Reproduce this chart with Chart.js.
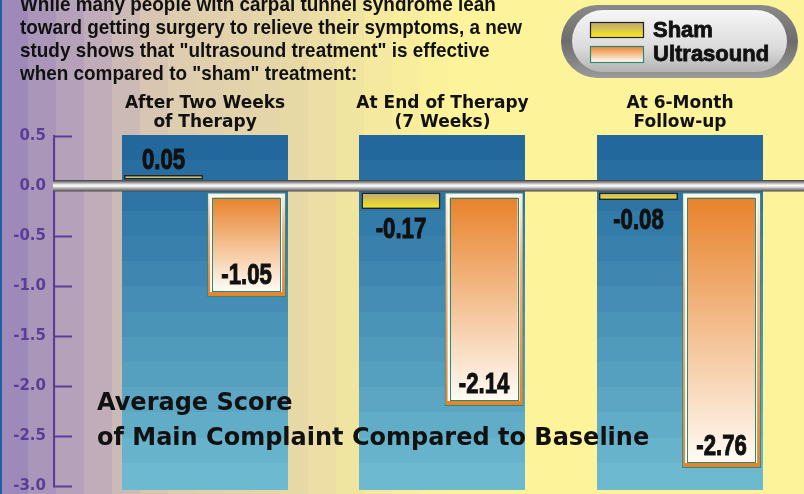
<!DOCTYPE html>
<html>
<head>
<meta charset="utf-8">
<script src="https://cdn.jsdelivr.net/npm/chart.js@4.4.1/dist/chart.umd.min.js"></script>
<style>
  html, body { margin: 0; padding: 0; background: #fdf39a; }
  canvas { display: block; }
</style>
</head>
<body>
<canvas id="carpalChart" width="804" height="494"></canvas>
<script>
// data
const periods = [['After Two Weeks', 'of Therapy'], ['At End of Therapy', '(7 Weeks)'], ['At 6-Month', 'Follow-up']];
const shamScores = [0.05, -0.17, -0.08];
const ultrasoundScores = [-1.05, -2.14, -2.76];
const seriesNames = ['Sham', 'Ultrasound'];
const introLines = [
  'While many people with carpal tunnel syndrome lean',
  'toward getting surgery to relieve their symptoms, a new',
  'study shows that "ultrasound treatment" is effective',
  'when compared to "sham" treatment:'
];
const titleLines = ['Average Score', 'of Main Complaint Compared to Baseline'];

// colours
const SHAM_TOP = '#b8a679', SHAM_BOTTOM = '#f9e81c';
const US_ORANGE = '#e8822a', US_WHITE = '#fffaf3', TEAL = '#2a8a78';
const PURPLE = '#5b3d99';
const ROD = 6; // half height of the grey rod at zero

function hexToRgb(h) {
  const n = parseInt(h.slice(1), 16);
  return [(n >> 16) & 255, (n >> 8) & 255, n & 255];
}
function mix(a, b, t) {
  const A = hexToRgb(a), B = hexToRgb(b);
  return 'rgb(' + A.map((v, i) => Math.round(v + (B[i] - v) * t)).join(',') + ')';
}
const bgStops = [[0, '#9884b8'], [100, '#c2aeba'], [165, '#dccbb0'], [300, '#e8daa6'], [360, '#f2e6a0'], [450, '#fdf39a'], [804, '#fdf39a']];
function bgAt(x) {
  for (let i = 1; i < bgStops.length; i++) {
    if (x <= bgStops[i][0]) {
      const [x0, c0] = bgStops[i - 1], [x1, c1] = bgStops[i];
      return mix(c0, c1, (x - x0) / (x1 - x0));
    }
  }
  return '#fdf39a';
}

function shift(v) { return v >= 0 ? -ROD : ROD; }

function shamFill(c) {
  const chart = c.chart;
  if (!chart.chartArea || !c.parsed) return '#e0cc50';
  const y = chart.scales.y, v = c.parsed.y;
  const a = y.getPixelForValue(0) + shift(v), b = y.getPixelForValue(v) + shift(v);
  const g = chart.ctx.createLinearGradient(0, Math.min(a, b), 0, Math.max(a, b) + 0.01);
  g.addColorStop(0, v >= 0 ? '#c9b364' : SHAM_TOP);
  g.addColorStop(1, v >= 0 ? '#e2cf52' : SHAM_BOTTOM);
  return g;
}
function ultrasoundFill(c) {
  const chart = c.chart;
  if (!chart.chartArea || !c.parsed) return US_ORANGE;
  const y = chart.scales.y, v = c.parsed.y;
  const a = y.getPixelForValue(0) + ROD, b = y.getPixelForValue(v) + ROD;
  const g = chart.ctx.createLinearGradient(0, a, 0, b);
  g.addColorStop(0, '#fdf3e6');
  g.addColorStop(0.35, '#f3b67e');
  g.addColorStop(1, US_ORANGE);
  return g;
}

const backdrop = {
  id: 'backdrop',
  beforeDraw(chart) {
    const ctx = chart.ctx, x = chart.scales.x, area = chart.chartArea;
    ctx.save();
    for (let px = 0; px < chart.width; px += 28) {
      ctx.fillStyle = bgAt(px + 14);
      ctx.fillRect(px, 0, 28, chart.height);
    }
    ctx.fillStyle = '#1f5f9f';
    ctx.fillRect(0, 0, 2, chart.height);

    // blue panels behind each period
    const step = x.getPixelForValue(1) - x.getPixelForValue(0);
    const w = step * 0.7;
    const top = area.top - 1, bottom = area.bottom + 2, bands = 14;
    periods.forEach((p, i) => {
      const cx = x.getPixelForValue(i);
      const h = (bottom - top) / bands;
      for (let b = 0; b < bands; b++) {
        ctx.fillStyle = mix('#22689c', '#6db9cf', b / (bands - 1));
        ctx.fillRect(Math.round(cx - w / 2), Math.round(top + b * h), Math.round(w), Math.ceil(h) + 1);
      }
    });

    // intro paragraph
    ctx.fillStyle = '#111';
    ctx.font = 'bold 21px "Liberation Sans", Arial, sans-serif';
    ctx.textBaseline = 'alphabetic';
    ctx.scale(0.9, 1);
    introLines.forEach((t, i) => ctx.fillText(t, 20 / 0.9, 11 + i * 23));
    ctx.restore();
  },
  afterDatasetsUpdate(chart) {
    chart.data.datasets.forEach((ds, di) => {
      chart.getDatasetMeta(di).data.forEach((el, i) => {
        const d = shift(ds.data[i].y);
        el.y += d;
        el.base += d;
      });
    });
  },
  afterDatasetsDraw(chart) {
    const ctx = chart.ctx, area = chart.chartArea, y = chart.scales.y;
    ctx.save();
    // inner boxes of the ultrasound bars
    chart.getDatasetMeta(1).data.forEach(el => {
      const l = el.x - el.width / 2 + 5, r = el.x + el.width / 2 - 6;
      const t = el.base + 5, b = el.y - 7;
      const g = ctx.createLinearGradient(0, t, 0, b);
      g.addColorStop(0, US_ORANGE);
      g.addColorStop(1, US_WHITE);
      ctx.fillStyle = '#ffffff';
      ctx.fillRect(l - 2, t - 2, r - l + 4, b - t + 4);
      ctx.fillStyle = g;
      ctx.fillRect(l, t, r - l, b - t);
      ctx.strokeStyle = TEAL;
      ctx.lineWidth = 1;
      ctx.strokeRect(Math.round(l) + 0.5, Math.round(t) + 0.5, Math.round(r - l), Math.round(b - t));
    });

    // grey rod at zero
    const y0 = y.getPixelForValue(0);
    const rg = ctx.createLinearGradient(0, y0 - ROD, 0, y0 + ROD);
    rg.addColorStop(0, '#3c3c3c');
    rg.addColorStop(0.18, '#8c8c8c');
    rg.addColorStop(0.38, '#e6e6e6');
    rg.addColorStop(0.5, '#ffffff');
    rg.addColorStop(0.66, '#bcbcbc');
    rg.addColorStop(0.85, '#747474');
    rg.addColorStop(1, '#3a3a3a');
    ctx.fillStyle = rg;
    ctx.fillRect(area.left - 1, y0 - ROD, chart.width - area.left + 1, ROD * 2 - 0.5);

    // value labels
    ctx.fillStyle = '#111';
    ctx.strokeStyle = '#111';
    ctx.lineWidth = 1;
    ctx.font = 'bold 30px "Liberation Sans", Arial, sans-serif';
    ctx.textAlign = 'center';
    ctx.textBaseline = 'alphabetic';
    chart.data.datasets.forEach((ds, di) => {
      chart.getDatasetMeta(di).data.forEach((el, i) => {
        const v = ds.data[i].y;
        let cy;
        if (di === 0) cy = v >= 0 ? el.y - 17 : el.y + 18;
        else cy = el.y - 24;
        const txt = v.toFixed(2);
        ctx.save();
        ctx.translate(el.x, cy + 11);
        ctx.scale(0.74, 1);
        ctx.fillText(txt, 0, 0);
        ctx.strokeText(txt, 0, 0);
        ctx.restore();
      });
    });

    // big caption
    ctx.textAlign = 'left';
    ctx.font = 'bold 24px "DejaVu Sans", sans-serif';
    ctx.fillText(titleLines[0], 97, 410);
    ctx.fillText(titleLines[1], 97, 445);
    ctx.restore();
  },
  afterDraw(chart) {
    const ctx = chart.ctx;
    ctx.save();
    function pill(x, y, w, h, fill) {
      const r = h / 2;
      ctx.beginPath();
      ctx.moveTo(x + r, y);
      ctx.lineTo(x + w - r, y);
      ctx.arc(x + w - r, y + r, r, -Math.PI / 2, Math.PI / 2);
      ctx.lineTo(x + r, y + h);
      ctx.arc(x + r, y + r, r, Math.PI / 2, Math.PI * 1.5);
      ctx.closePath();
      ctx.fillStyle = fill;
      ctx.fill();
    }
    const og = ctx.createLinearGradient(561, 5, 561, 78);
    og.addColorStop(0, '#8a8a8a');
    og.addColorStop(0.5, '#6c6c6c');
    og.addColorStop(1, '#9a9a9a');
    pill(561, 5, 237, 73, og);
    const ig = ctx.createLinearGradient(0, 10, 0, 72);
    ig.addColorStop(0, '#f6f6f6');
    ig.addColorStop(0.6, '#dcdcdc');
    ig.addColorStop(1, '#b4b4b4');
    pill(572, 10, 215, 62, ig);

    const sw = [[22, 15, SHAM_TOP, SHAM_BOTTOM, '#222'], [46, 16, US_ORANGE, US_WHITE, TEAL]];
    sw.forEach(([top, h, c0, c1, border], i) => {
      const g = ctx.createLinearGradient(0, top, 0, top + h);
      g.addColorStop(0, c0);
      g.addColorStop(1, c1);
      ctx.fillStyle = g;
      ctx.fillRect(590, top, 54, h);
      ctx.strokeStyle = border;
      ctx.lineWidth = 1.2;
      ctx.strokeRect(590.5, top + 0.5, 53, h);
      ctx.fillStyle = '#111';
      ctx.strokeStyle = '#111';
      ctx.lineWidth = 0.8;
      ctx.font = 'bold 22px "Liberation Sans", Arial, sans-serif';
      ctx.textBaseline = 'middle';
      ctx.fillText(chart.data.datasets[i].label, 653, top + h / 2 + 1);
      ctx.strokeText(chart.data.datasets[i].label, 653, top + h / 2 + 1);
    });
    ctx.restore();
  }
};

const ctx = document.getElementById('carpalChart').getContext('2d');
new Chart(ctx, {
  type: 'bar',
  data: {
    datasets: [
      {
        label: seriesNames[0],
        data: shamScores.map((v, i) => ({ x: i, y: v })),
        backgroundColor: shamFill,
        borderColor: '#222',
        borderWidth: 1.5,
        borderSkipped: false,
        categoryPercentage: 0.7,
        barPercentage: 0.95
      },
      {
        label: seriesNames[1],
        data: ultrasoundScores.map((v, i) => ({ x: i, y: v })),
        backgroundColor: ultrasoundFill,
        borderColor: TEAL,
        borderWidth: 1,
        borderSkipped: false,
        categoryPercentage: 0.7,
        barPercentage: 0.95
      }
    ]
  },
  plugins: [backdrop],
  options: {
    responsive: false,
    animation: false,
    events: [],
    layout: { padding: { top: 76, right: 0, bottom: 8, left: 0 } },
    plugins: { legend: { display: false }, tooltip: { enabled: false } },
    scales: {
      x: {
        type: 'linear',
        position: 'top',
        offset: false,
        min: -0.636,
        max: 2.522,
        bounds: 'data',
        afterBuildTicks(s) { s.ticks = periods.map((p, i) => ({ value: i })); },
        afterFit(s) { s.height = 60; s.paddingLeft = 0; s.paddingRight = 0; },
        grid: { display: false, drawTicks: false, offset: false },
        border: { display: false },
        ticks: {
          autoSkip: false,
          maxRotation: 0,
          padding: 4,
          color: '#111',
          font: { family: '"DejaVu Sans", sans-serif', size: 17, weight: 'bold', lineHeight: 1.12 },
          callback: v => periods[v]
        }
      },
      y: {
        position: 'left',
        min: -3,
        max: 0.5,
        afterFit(s) { s.width = 54; s.paddingTop = 0; s.paddingBottom = 0; },
        grid: {
          display: true,
          drawOnChartArea: false,
          drawTicks: true,
          tickLength: -18,
          tickColor: PURPLE,
          tickWidth: 2
        },
        border: { display: true, color: PURPLE, width: 2 },
        ticks: {
          stepSize: 0.5,
          padding: 26,
          color: PURPLE,
          font: { family: '"DejaVu Sans", sans-serif', size: 15, weight: 'bold' },
          callback: v => v.toFixed(1)
        }
      }
    }
  }
});
</script>
</body>
</html>
